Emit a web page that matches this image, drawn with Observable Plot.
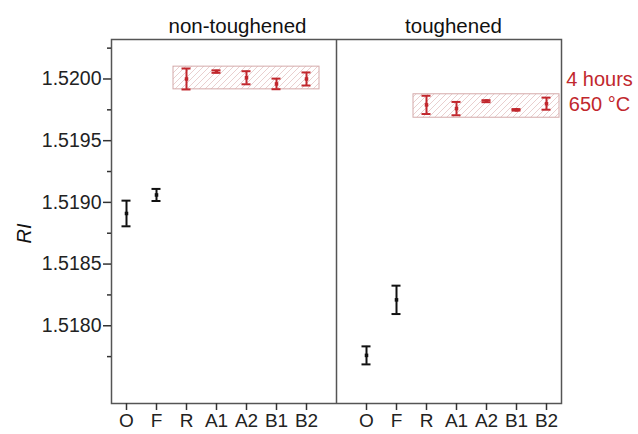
<!DOCTYPE html>
<html><head><meta charset="utf-8">
<script src="https://cdn.jsdelivr.net/npm/d3@7"></script>
<script src="https://cdn.jsdelivr.net/npm/@observablehq/plot@0.6"></script>
<style>
body{margin:0;background:#fff;}
#chart svg{display:block;}
</style>
</head><body><div id="chart"></div>
<script>
// ---- data ----
const categories = ["O", "F", "R", "A1", "A2", "B1", "B2"];
const groupTitles = ["non-toughened", "toughened"];
const groupPrefix = ["n", "t"];
const nonToughenedMean = [1.51891, 1.51906, 1.52000, 1.52006, 1.52001, 1.51996, 1.52000];
const nonToughenedErr  = [0.000104, 0.000049, 0.000085, 0.00001, 0.000053, 0.000043, 0.000053];
const toughenedMean    = [1.51776, 1.51821, 1.51979, 1.51976, 1.51982, 1.51975, 1.51980];
const toughenedErr     = [0.000073, 0.000115, 0.000074, 0.000054, 0.000008, 0.000006, 0.000049];
const heatedCategories = ["R", "A1", "A2", "B1", "B2"];
const bandLow  = [1.519916, 1.519686];
const bandHigh = [1.520100, 1.519876];
const heatLabel = ["4 hours", "650 °C"];
const yMajorTicks = [1.5180, 1.5185, 1.5190, 1.5195, 1.5200];
const yMinorTicks = [1.51775, 1.51825, 1.51875, 1.51925, 1.51975, 1.52025];
const yDomain = [1.51737, 1.52032];
const yTitle = "RI";

// ---- build tables ----
const means = [nonToughenedMean, toughenedMean];
const errs = [nonToughenedErr, toughenedErr];
const xDomain = [
  ...categories.map(c => `n:${c}`), "gap", ...categories.map(c => `t:${c}`)
];
const xTicks = xDomain.filter(k => k !== "gap");
const rows = [];
groupPrefix.forEach((p, gi) => {
  categories.forEach((c, ci) => {
    rows.push({key: `${p}:${c}`, mean: means[gi][ci], err: errs[gi][ci], heated: heatedCategories.includes(c)});
  });
});
const bands = groupPrefix.map((p, gi) => ({
  x1: `${p}:${heatedCategories[0]}`,
  x2: `${p}:${heatedCategories[heatedCategories.length - 1]}`,
  y1: bandLow[gi], y2: bandHigh[gi]
}));
const titleStyle = {frameAnchor: "top", text: "text", dy: -13, lineAnchor: "middle", fontSize: 20.5, fill: "#111"};

const RED = "#c1272d";
const BLACK = "#111";
const col = d => d.heated ? RED : BLACK;

const chart = Plot.plot({
  width: 638,
  height: 434,
  marginLeft: 111,
  marginRight: 77,
  marginTop: 39,
  marginBottom: 31,
  style: {fontFamily: "'Liberation Sans', Arial, sans-serif", fontSize: "19px", color: "#222", background: "#fff"},
  x: {type: "point", domain: xDomain, padding: 0.5, axis: null},
  y: {domain: yDomain, axis: null},
  marks: [
    Plot.rect(bands, {x1: "x1", x2: "x2", y1: "y1", y2: "y2", fill: "url(#hatch)", stroke: "#d4aaaa", strokeWidth: 1, insetLeft: -13, insetRight: -13}),
    Plot.ruleX(["gap"], {stroke: "#555", strokeWidth: 1.5}),
    Plot.frame({stroke: "#555", strokeWidth: 1.5}),
    Plot.axisY({ticks: yMinorTicks, tickSize: 4, tickFormat: () => "", label: null, stroke: "#333", strokeWidth: 1.5}),
    Plot.axisY({ticks: yMajorTicks, tickSize: 8, tickPadding: 2, tickFormat: d3.format(".4f"), label: null, stroke: "#333", strokeWidth: 1.5, fill: "#222", fontSize: 19.5}),
    Plot.axisX({ticks: xTicks, tickSize: 7, tickPadding: 3, tickFormat: d => d.split(":")[1], label: null, stroke: "#333", strokeWidth: 1.5, fill: "#222", fontSize: 19}),
    Plot.ruleX(rows, {x: "key", y1: d => d.mean - d.err, y2: d => d.mean + d.err, stroke: col, strokeWidth: 2}),
    Plot.ruleY(rows, {x1: "key", x2: "key", y: d => d.mean + d.err, stroke: col, strokeWidth: 2, insetLeft: -4.5, insetRight: -4.5}),
    Plot.ruleY(rows, {x1: "key", x2: "key", y: d => d.mean - d.err, stroke: col, strokeWidth: 2, insetLeft: -4.5, insetRight: -4.5}),
    Plot.dot(rows, {x: "key", y: "mean", fill: col, symbol: "square", r: 2}),
    Plot.text([{text: groupTitles[0], key: "n:A1"}], {...titleStyle, x: "key", dx: 21}),
    Plot.text([{text: groupTitles[1], key: "t:A1"}], {...titleStyle, x: "key", dx: -3}),
    Plot.text([heatLabel.join("\n")], {frameAnchor: "top-right", dx: 38, dy: 51, textAnchor: "middle", lineAnchor: "middle", lineHeight: 1.25, fill: RED, fontSize: 20}),
    Plot.text([yTitle], {frameAnchor: "left", dx: -87, dy: 12, rotate: -90, textAnchor: "middle", fontStyle: "italic", fontSize: 20, fill: "#111", lineAnchor: "middle"})
  ]
});

// hatch pattern definition
const svg = d3.select(chart);
const defs = svg.insert("defs", ":first-child");
const pat = defs.append("pattern").attr("id", "hatch").attr("patternUnits", "userSpaceOnUse")
  .attr("width", 6).attr("height", 6);
pat.append("path").attr("d", "M-1,1 l2,-2 M0,6 l6,-6 M5,7 l2,-2")
  .attr("stroke", "#e6caca").attr("stroke-width", 0.9);

document.getElementById("chart").appendChild(chart);
</script>
</body></html>
